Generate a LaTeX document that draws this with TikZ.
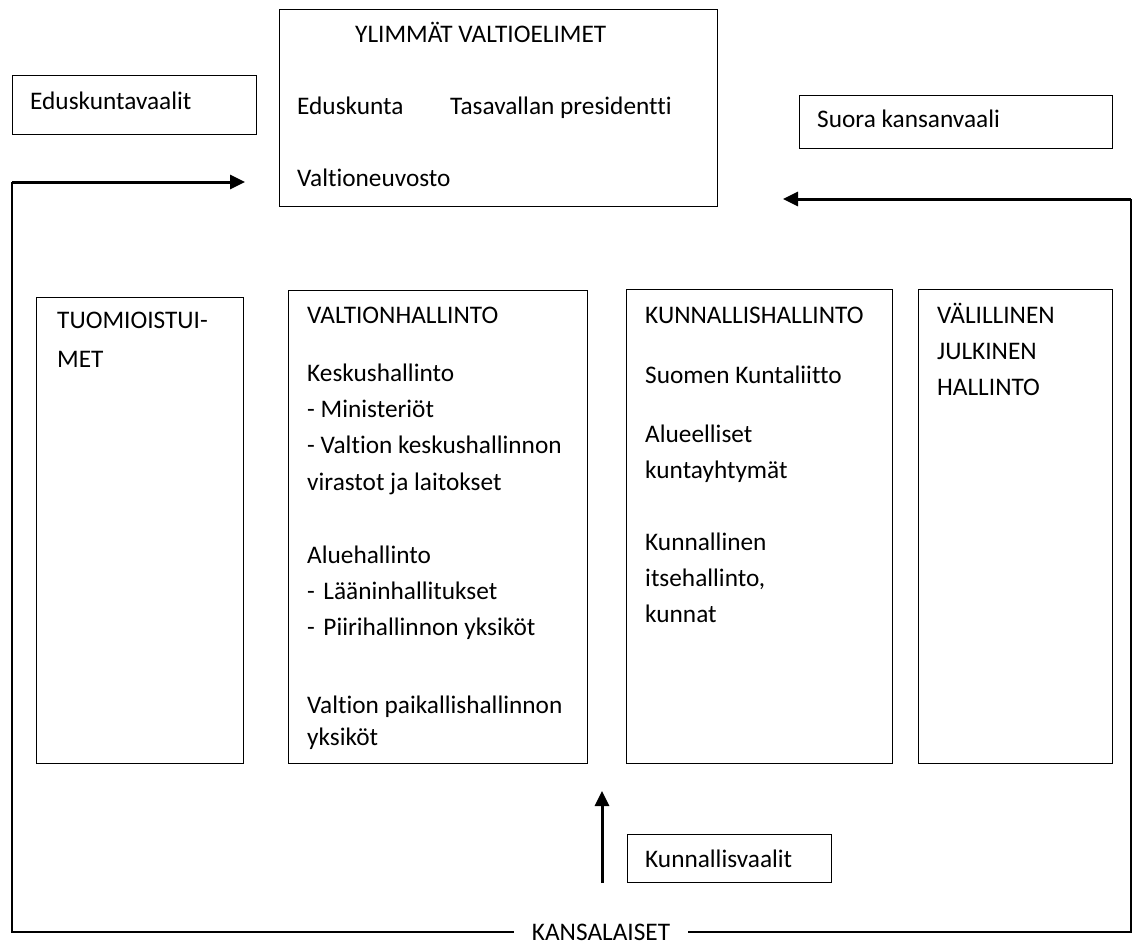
\documentclass[tikz,border=0pt]{standalone}
\usepackage{fontspec}
\setmainfont[Ligatures={NoCommon}]{Carlito}
\usetikzlibrary{arrows.meta}
\begin{document}
\begin{tikzpicture}[x=1pt,y=-1pt,
  box/.style={draw, line width=1.3pt, inner sep=0pt, anchor=north west},
  txt/.style={anchor=base west, inner sep=0pt},
  framing/.style={line width=1.5pt},
  bigarrow/.style={line width=3pt, -{Triangle[length=15pt,width=14pt]}},
  font=\fontsize{25.3}{30}\selectfont]
\useasboundingbox (0,0) rectangle (1132,947);

% --- top row: supreme organs and the two kinds of elections
\node[box, minimum width=438pt, minimum height=197pt] (ylim) at (279,9) {};
\node[txt] (ylimt) at (355,43) {YLIMMÄT VALTIOELIMET};
\node[txt] (edk)   at (297,115) {Eduskunta};
\node[txt] (pres)  at (450,115) {Tasavallan presidentti};
\node[txt] (vn)    at (297,186) {Valtioneuvosto};

\node[box, minimum width=244pt, minimum height=59pt] (edv) at (12,75) {};
\node[txt] (edvt) at (30,110) {Eduskuntavaalit};

\node[box, minimum width=313pt, minimum height=53pt] (suora) at (799,95) {};
\node[txt] (suorat) at (817,128) {Suora kansanvaali};

% --- middle row: the four branches of administration
\node[box, minimum width=207pt, minimum height=466pt] (tuom) at (36,297) {};
\node[txt] (tuom1) at (57,328) {TUOMIOISTUI-};
\node[txt] (tuom2) at (57,367) {MET};

\node[box, minimum width=299pt, minimum height=473pt] (valt) at (288,290) {};
\node[txt] (valt1)  at (307,323) {VALTIONHALLINTO};
\node[txt] (valt2)  at (307,381) {Keskushallinto};
\node[txt] (valt3)  at (307,417) {- Ministeriöt};
\node[txt] (valt4)  at (307,453) {- Valtion keskushallinnon};
\node[txt] (valt5)  at (307,490) {virastot ja laitokset};
\node[txt] (valt6)  at (307,563) {Aluehallinto};
\node[txt] (valt7)  at (307,599) {-\hspace{8.5pt}Lääninhallitukset};
\node[txt] (valt8)  at (307,635) {-\hspace{8.5pt}Piirihallinnon yksiköt};
\node[txt] (valt9)  at (307,713) {Valtion paikallishallinnon};
\node[txt] (valt10) at (307,745) {yksiköt};

\node[box, minimum width=266pt, minimum height=474pt] (kunn) at (626,289) {};
\node[txt] (kunn1) at (645,323) {KUNNALLISHALLINTO};
\node[txt] (kunn2) at (645,383) {Suomen Kuntaliitto};
\node[txt] (kunn3) at (645,442) {Alueelliset};
\node[txt] (kunn4) at (645,478) {kuntayhtymät};
\node[txt] (kunn5) at (645,550) {Kunnallinen};
\node[txt] (kunn6) at (645,586) {itsehallinto,};
\node[txt] (kunn7) at (645,622) {kunnat};

\node[box, minimum width=194pt, minimum height=474pt] (vali) at (918,289) {};
\node[txt] (vali1) at (937,323) {VÄLILLINEN};
\node[txt] (vali2) at (937,359) {JULKINEN};
\node[txt] (vali3) at (937,395) {HALLINTO};

% --- bottom: municipal elections and the citizens
\node[box, minimum width=204pt, minimum height=48pt] (kv) at (627,834) {};
\node[txt] (kvt) at (645,867) {Kunnallisvaalit};

\node[anchor=base, inner xsep=18pt, inner ysep=0pt] (kans) at (601,940) {KANSALAISET};

% --- connectors
\coordinate (tl) at (12,182);
\coordinate (edin) at (245,182);
\coordinate (tr) at (1131,199);
\coordinate (prein) at (783,199);
\coordinate (kvfoot) at (602,883);
\coordinate (kvtip) at (602,791);

\draw[framing] (kans.west) -| (tl);
\draw[framing] (kans.east) -| (tr);
\draw[bigarrow] (tl) -- (edin);
\draw[bigarrow] (tr) -- (prein);
\draw[bigarrow] (kvfoot) -- (kvtip);
\end{tikzpicture}
\end{document}
